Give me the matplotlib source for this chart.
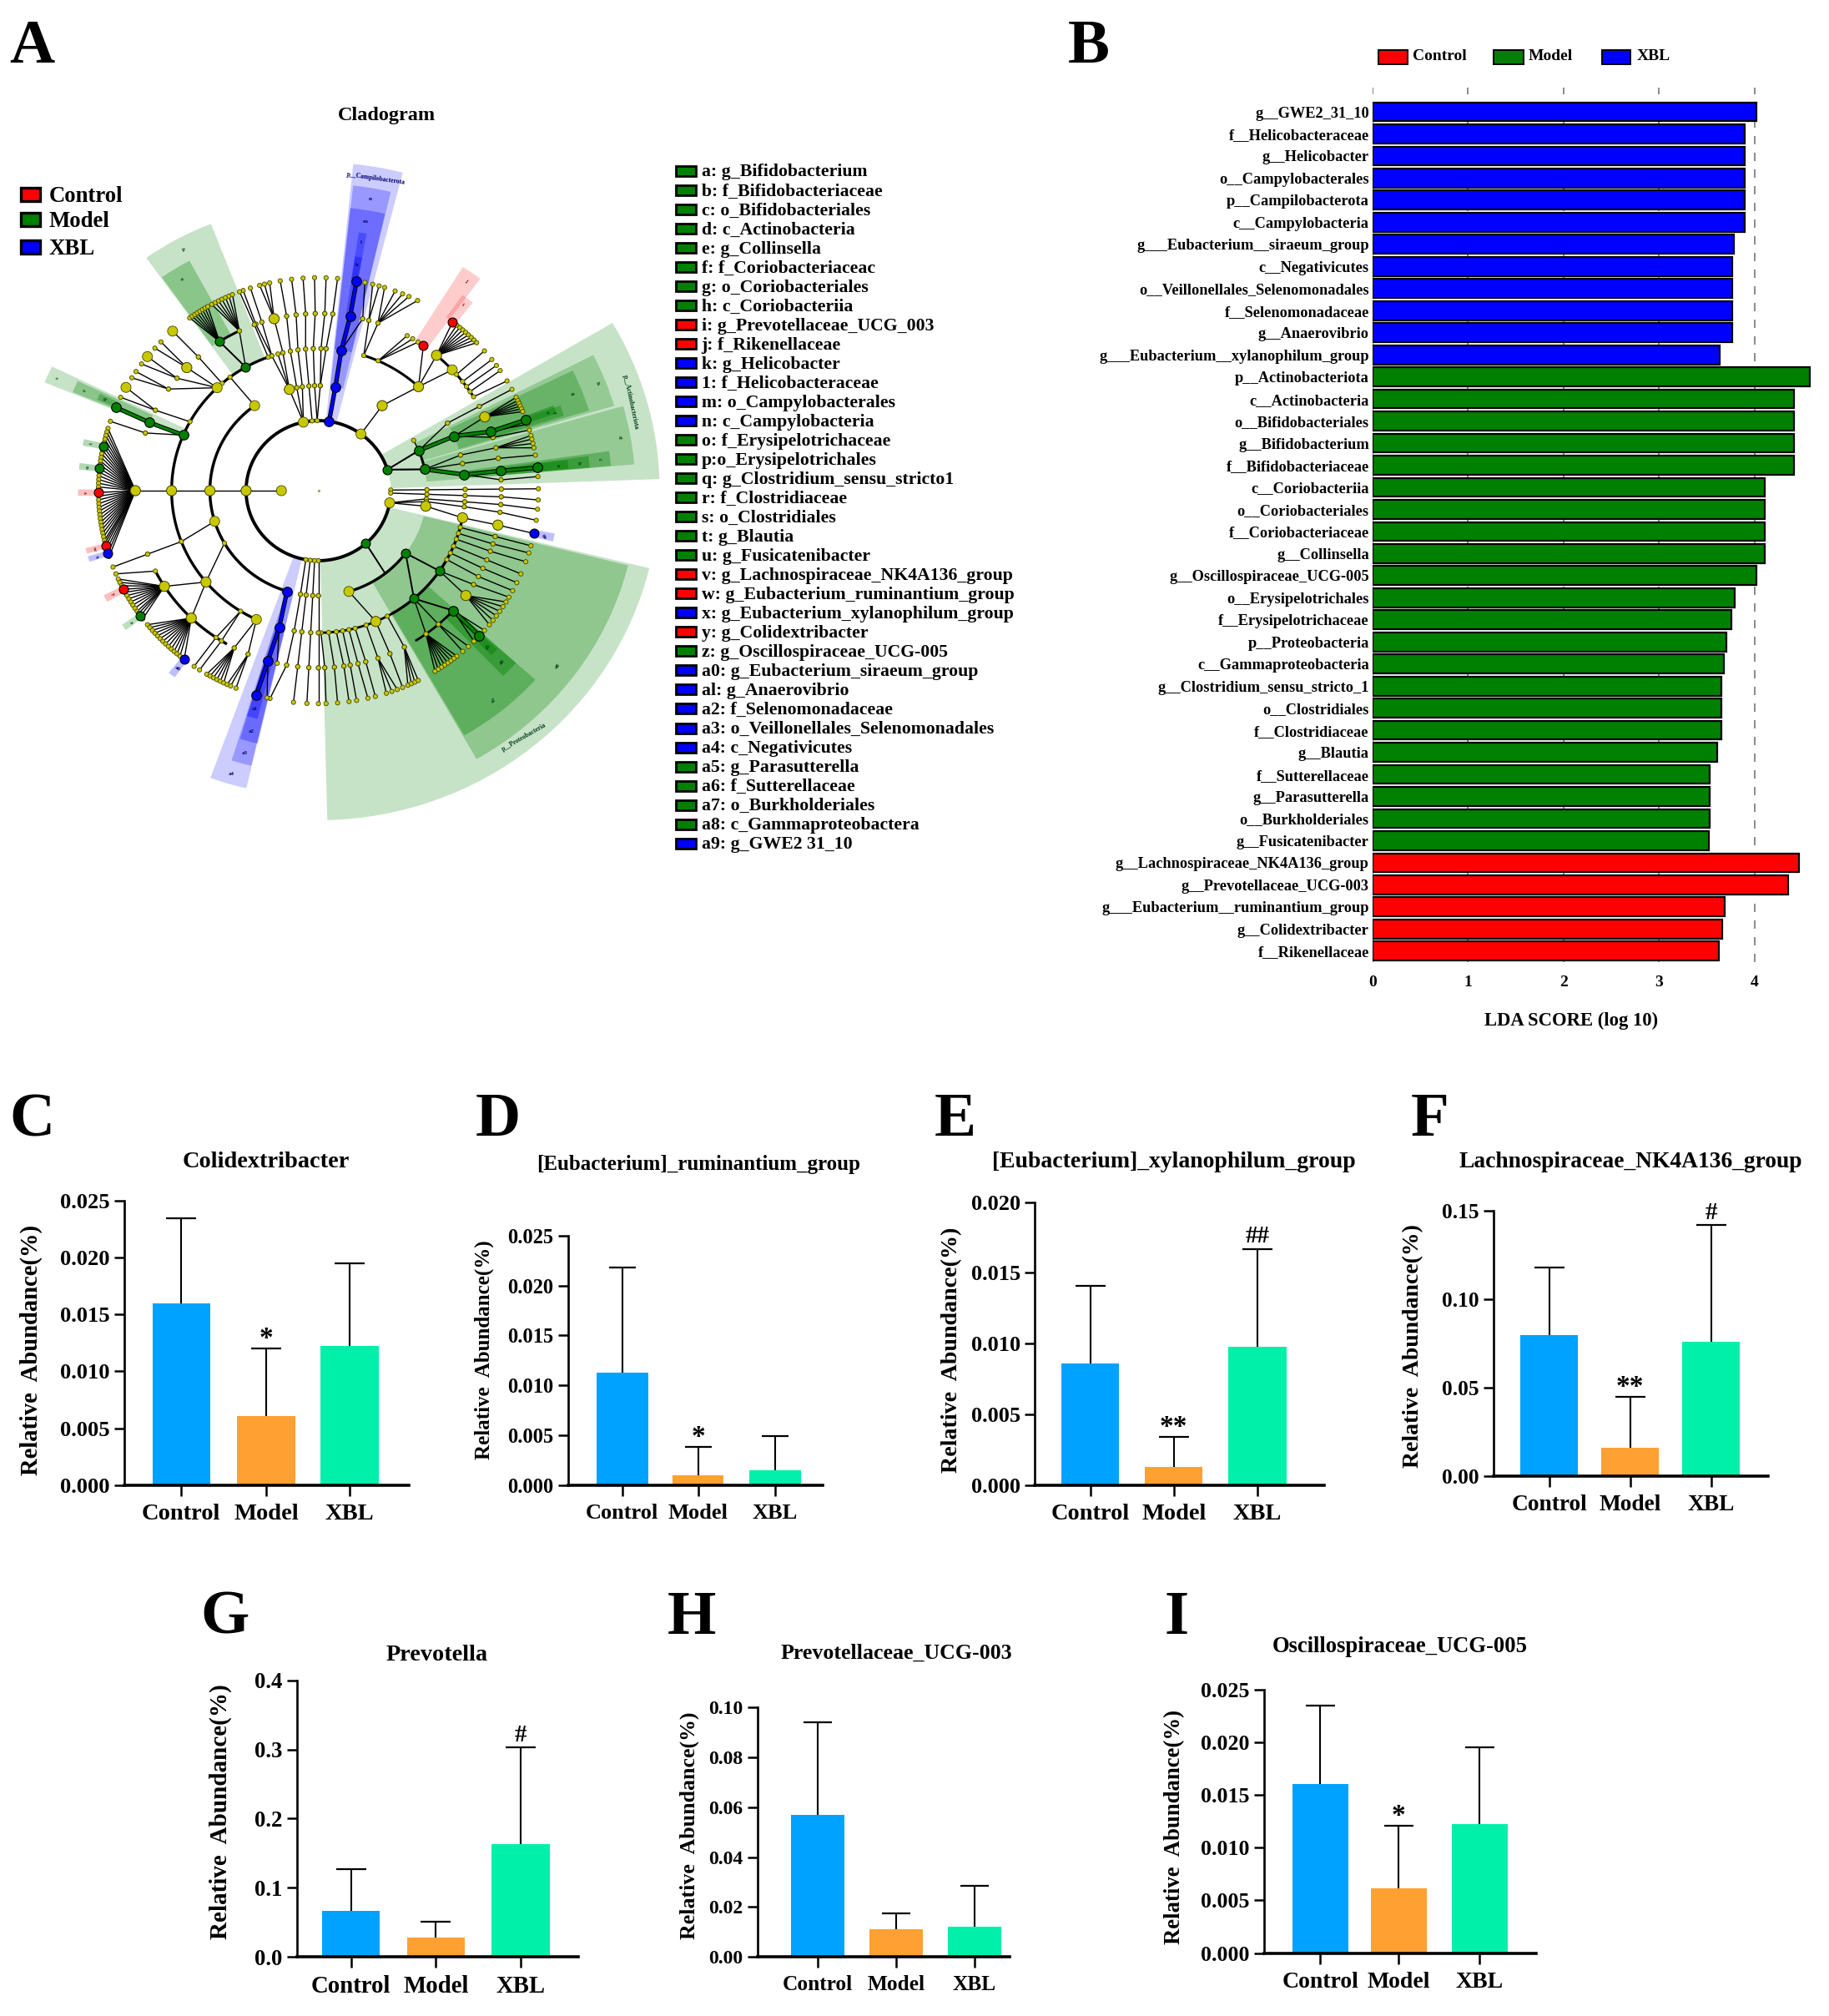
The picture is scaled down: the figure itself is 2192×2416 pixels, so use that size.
import numpy as np
import matplotlib
matplotlib.use("Agg")
import matplotlib.pyplot as plt
from matplotlib.patches import Rectangle

plt.rcParams['font.family'] = ['Liberation Serif', 'DejaVu Serif']
plt.rcParams['font.weight'] = 'bold'

W, H = 2192, 2416
S = 2416 / 1568
RED, GREEN, BLUE = '#ff0000', '#008000', '#0000ff'
BAR_COLORS = ['#00a2ff', '#ffa033', '#00f0aa']
GROUPS = ['Control', 'Model', 'XBL']

# ---------- Panel A legend ----------
clade_labels = ['a: g_Bifidobacterium', 'b: f_Bifidobacteriaceae', 'c: o_Bifidobacteriales', 'd: c_Actinobacteria',
    'e: g_Collinsella', 'f: f_Coriobacteriaceac', 'g: o_Coriobacteriales', 'h: c_Coriobacteriia',
    'i: g_Prevotellaceae_UCG_003', 'j: f_Rikenellaceae', 'k: g_Helicobacter', '1: f_Helicobacteraceae',
    'm: o_Campylobacterales', 'n: c_Campylobacteria', 'o: f_Erysipelotrichaceae', 'p:o_Erysipelotrichales',
    'q: g_Clostridium_sensu_stricto1', 'r: f_Clostridiaceae', 's: o_Clostridiales', 't: g_Blautia',
    'u: g_Fusicatenibacter', 'v: g_Lachnospiraceae_NK4A136_group', 'w: g_Eubacterium_ruminantium_group',
    'x: g_Eubacterium_xylanophilum_group', 'y: g_Colidextribacter', 'z: g_Oscillospiraceae_UCG-005',
    'a0: g_Eubacterium_siraeum_group', 'al: g_Anaerovibrio', 'a2: f_Selenomonadaceae',
    'a3: o_Veillonellales_Selenomonadales', 'a4: c_Negativicutes', 'a5: g_Parasutterella', 'a6: f_Sutterellaceae',
    'a7: o_Burkholderiales', 'a8: c_Gammaproteobactera', 'a9: g_GWE2 31_10']
clade_groups = 'MMMMMMMMCCXXXXMMMMMMMCCXCMXXXXXMMMMX'

# ---------- Cladogram data: level, angle (deg) ----------
level_radius = {1: 87, 2: 170, 3: 255, 4: 345, 5: 430, 6: 517}
ring_arcs = [(2, 17.5, 350, 2.8), (3, 126, 253, 2.5), (4, 110, 245, 2.4),
             (4, 47, 72, 2.2), (5, 32, 49.8, 2.2), (3, 11.7, 22.4, 2.2), (3, -73.7, -36.5, 2.4), (4, -89, -58.5, 2.0),
             (4, -60, -13, 2.4), (5, -58, -42.6, 2.0), (5, 115.6, 122.7, 2.2), (5, 207, 240, 2.4)]
big_nodes = [(2, 102), (2, 54), (2, -10), (2, 180), (1, 180), (3, 105.5), (3, 54), (3, 180), (3, 197), (3, 126), (3, -73.7),
             (4, 47), (4, 180), (4, 133.6), (4, 220), (4, 245), (4, -67), (5, 104), (5, 49.8), (5, 43), (5, 180), (5, 212.7),
             (5, 226), (5, -36.3), (4, -11), (5, -11.2), (3, -8.5), (6, 131.5), (6, 141), (6, 151), (5, 136), (5, 24.6)]
links = [
    (2, 180, 1, [180]), (2, 180, 3, [180]), (3, 180, 4, [180]), (4, 180, 5, [180]),
    (5, 180, 6, [163, 164, 165, 166, 167, 168, 169, 170, 171, 172, 173, 174, 175, 176, 177, 178, 179, 180.5, 181.5, 182.5, 183.5,
                 184.5, 185.5, 186.5, 187.5, 188.5, 189.5, 190.5, 191.5, 192.5, 193.5, 194.2, 195, 196, 197, 198]),
    # top
    (2, 102, 3, [105.5, 101.5, 98.5]), (2, 95, 3, [95]), (2, 91, 3, [92, 89]),
    (3, 105.5, 4, [108.5, 106, 104]), (3, 101.5, 4, [101]), (3, 98.5, 4, [98]), (3, 95, 4, [95]), (3, 92, 4, [92]), (3, 89, 4, [89]),
    (4, 108.5, 5, [110, 108]), (5, 110, 6, [110]), (5, 108, 6, [108]), (4, 104, 5, [104]), (5, 104, 6, [105.5, 104.2, 102.8]),
    (4, 101, 5, [100]), (5, 100, 6, [100]), (4, 98, 5, [97]), (5, 97, 6, [97]), (4, 95, 5, [94]), (5, 94, 6, [94]),
    (4, 92, 5, [91]), (5, 91, 6, [91]), (4, 89, 5, [88]), (5, 88, 6, [88]), (5, 85.5, 6, [85]), (4, 87, 5, [85.5]), (3, 89, 4, [87]),
    # Campilobacterota siblings
    (5, 76, 6, [77.8]), (4, 81, 5, [76]),
    # sector 54
    (2, 54, 3, [54]), (3, 54, 4, [47]), (4, 72, 5, [74, 71]), (5, 74, 6, [75.7, 74]), (5, 71, 6, [72.5, 69.6, 67.5, 65.7, 63.2]),
    (4, 66, 5, [61, 59, 57]), (4, 47, 5, [55, 49.8, 43]),
    (5, 49.8, 6, [52.4, 51, 50, 49, 48, 47, 46, 45, 44]),
    (5, 41, 6, [41]), (5, 38, 6, [38]), (5, 36, 6, [36]), (5, 34, 6, [34.3]), (5, 32, 6, [31]),
    # Actinobacteriota
    (2, 17.5, 3, [22.4, 11.7]), (3, 22.4, 4, [28.4, 22.5]), (3, 22.4, 3, [28.6]), (4, 28.4, 5, [28.4]), (5, 28.4, 6, [28.4]),
    (4, 22.5, 5, [24.6, 19.5, 17.5]), (5, 24.6, 6, [26, 25, 24.2, 23.4, 22.6, 21.8]), (5, 19.5, 6, [19.4, 18.2]), (5, 17.5, 6, [16.5]),
    (3, 11.7, 4, [14.5, 11, 6.5]), (4, 14.5, 5, [14]), (5, 14, 6, [15, 14, 12.8, 11.6]), (4, 11, 5, [10.5]), (5, 10.5, 6, [9.6]),
    (4, 6.5, 5, [6.4, 3.5]), (5, 6.4, 6, [6.2]), (5, 3.5, 6, [3.8]),
    # right gap
    (2, 0.5, 3, [0.5]), (3, 0.5, 4, [0.5]), (4, 0.5, 5, [0.5]), (5, 0.5, 6, [0.5]),
    (2, -2, 3, [-2]), (3, -2, 4, [-2]), (4, -2, 5, [-2]), (5, -2, 6, [-2.5]),
    (2, -10, 3, [-4.5, -6, -8.5]), (3, -4.5, 4, [-4.5]), (4, -4.5, 5, [-4.5]), (5, -4.5, 6, [-5]),
    (3, -6, 4, [-6.5]), (4, -6.5, 5, [-7]), (5, -7, 6, [-8]),
    (3, -8.5, 4, [-11]), (4, -11, 5, [-11.2]), (5, -11.2, 6, [-11.6]),
    # Proteobacteria yellow
    (3, -73.7, 4, [-67]),
    (4, -89, 5, [-88]), (5, -88, 6, [-88]), (4, -86, 5, [-85]), (5, -85, 6, [-85]), (4, -83, 5, [-82]), (5, -82, 6, [-82]),
    (4, -80.5, 5, [-80]), (5, -80, 6, [-80]), (4, -78, 5, [-77.5]), (5, -77.5, 6, [-77]), (4, -75.5, 5, [-75]), (5, -75, 6, [-75]),
    (4, -71, 5, [-71]), (5, -71, 6, [-72, -70.5, -69]), (4, -62, 5, [-62]), (5, -62, 6, [-66, -65, -64, -63]),
    (4, -67, 5, [-67]), (5, -67, 6, [-67.5]),
    (4, -15, 5, [-15]), (5, -15, 6, [-15]), (4, -17.5, 5, [-17.5]), (5, -17.5, 6, [-17]), (4, -20, 5, [-20]), (5, -20, 6, [-19.5]),
    (4, -23, 5, [-23]), (5, -23, 6, [-23]), (4, -26, 5, [-26]), (5, -26, 6, [-25.6]), (4, -29, 5, [-29]), (5, -29, 6, [-28]),
    (4, -34.4, 5, [-36.3, -32]), (5, -32, 6, [-30]), (5, -36.3, 6, [-31.5, -33, -34.5, -36, -37.5, -39]),
    (5, -42.6, 6, [-41, -45]), (4, -49.4, 5, [-49, -54]), (5, -49, 6, [-47, -49]),
    (5, -54, 6, [-51, -52, -53, -54, -55, -56, -57, -58]),
    # bottom
    (2, -90, 3, [-90]), (3, -90, 4, [-90]), (4, -90, 5, [-90]), (5, -90, 6, [-90]),
    (2, -93, 3, [-93]), (3, -93, 4, [-93]), (4, -93, 5, [-93]), (5, -93, 6, [-93]),
    (2, -96.5, 3, [-96.5]), (3, -96.5, 4, [-96.5]), (4, -96.5, 5, [-96.5]), (5, -96.5, 6, [-96.5]),
    (2, -100, 3, [-99.5]), (3, -99.5, 4, [-99.5]), (4, -99.5, 5, [-100]), (5, -100, 6, [-102.7]),
    # Left upper
    (3, 126, 4, [127]), (4, 110, 5, [110.5]), (5, 110.5, 6, [111]),
    (4, 119.7, 5, [115.6]), (5, 122.7, 6, [125.8, 125, 124.2, 123.4, 122.6, 121.8, 121, 120.2]),
    (5, 115.6, 6, [119, 118, 117, 116, 115, 114, 113]),
    (4, 131, 5, [131]), (5, 131, 6, [131.5]), (4, 133.6, 5, [136, 140.6, 145]), (5, 136, 6, [135.7, 138]), (5, 140.6, 6, [141, 143.5]),
    (5, 145, 6, [146, 148]), (4, 151, 5, [153]), (5, 153, 6, [151, 154]), (4, 157, 5, [161]), (5, 161, 6, [161]),
    # Left lower
    (3, 197, 4, [201]), (4, 201, 5, [201]), (5, 201, 6, [201]), (3, 210, 4, [220]),
    (4, 220, 5, [212.7, 226]), (5, 207, 6, [203]),
    (5, 212.7, 6, [204.5, 205.5, 206.5, 207.6, 208.5, 209.5, 210.5, 211.5, 212.5, 213.5, 214.5, 215.2, 216, 217]),
    (5, 226, 6, [219, 220, 221, 222, 223, 224, 225, 226, 227, 228, 229, 230, 231, 232.4]),
    (4, 238, 5, [236, 238]), (5, 236, 6, [235.6]), (5, 238, 6, [237.3]),
    (4, 245, 5, [242.6, 247.4]), (5, 242.6, 6, [239.5, 240.5, 241.5, 242.5, 243.5, 244.5]), (5, 247.4, 6, [245.5, 246.5, 248]),
    (4, 254.5, 5, [257]), (5, 254, 6, [256.5]),
]
colored_chains = [
    (GREEN, [(3, 22.4), (4, 22.5), (5, 19.5), (6, 19.4)]),
    (GREEN, [(3, 11.7), (4, 6.5), (5, 6.4), (6, 6.2)]),
    (BLUE, [(2, 81.5), (3, 81), (4, 81), (5, 80), (6, 80)]),
    (BLUE, [(3, 253.2), (4, 254.5), (5, 254), (6, 253.6)]),
    (GREEN, [(4, 157), (5, 157.4), (6, 157)]),
    (GREEN, [(5, -42.6), (6, -43)]),
]
stem_links = [(4, -49.4, 5, -42.6), (3, -36.5, 4, -49.4), (3, -36.5, 4, -34.4), (2, -49, 3, -52), (4, 119.7, 5, 122.7),
              (2, 17.5, 3, 22.4), (2, 17.5, 3, 11.7)]
green_nodes = [(2, 17.5), (2, -49), (3, -36.5), (4, -49.4), (4, -34.4), (4, 119.7), (5, 122.7), (6, 168), (6, 174), (6, 216)]
red_nodes = [(5, 55), (6, 52.4), (6, 180.5), (6, 195), (6, 207.6)]
blue_nodes = [(6, -11.6), (6, 197), (6, 232.4)]
# wedge: theta1, theta2, radius start, radius end, colour, alpha, label, label radius, rotation
wedges = [
    (2, 30.5, 170, 802, GREEN, .22, 'p__Actinobacteriota', 765, -78),
    (-88.5, -13.6, 170, 800, GREEN, .22, 'p__Proteobacteria', 770, 30),
    (75.6, 84.1, 170, 797, BLUE, .2, 'p__Campilobacterota', 770, -8),
    (250, 256.8, 170, 742, BLUE, .2, 'a4', 718, 0),
    (111.3, 125.6, 345, 695, GREEN, .22, 'p', 665, 30),
    (154.3, 157.8, 345, 695, GREEN, .22, 's', 672, 70),
    (4.9, 16, 255, 745, GREEN, .25, 'd', 720, -85),
    (16.5, 27, 255, 725, GREEN, .25, 'h', 705, -70),
    (-60.3, -14, 255, 750, GREEN, .28, 'a8', 705, 45),
    (76.8, 83.7, 255, 745, BLUE, .25, 'n', 718, 0),
    (252.7, 256.7, 255, 686, BLUE, .25, 'a3', 660, 0),
    (118.5, 125.4, 430, 635, GREEN, .3, 'o', 605, 30),
    (154.8, 157.5, 430, 625, GREEN, .3, 'r', 600, 70),
    (5, 8, 345, 690, GREEN, .35, 'c', 665, -85),
    (17, 26, 345, 665, GREEN, .3, 'g', 640, -70),
    (-60, -42, 345, 686, GREEN, .35, 'a7', 655, 50),
    (76.9, 83.8, 345, 690, BLUE, .28, 'm', 662, 0),
    (253, 256.9, 345, 630, BLUE, .3, 'a2', 605, 0),
    (5, 7.5, 430, 640, GREEN, .4, 'b', 615, -85),
    (17.5, 20, 430, 605, GREEN, .35, 'f', 585, -75),
    (-46, -42, 430, 625, GREEN, .4, 'a6', 600, 50),
    (79.7, 81.4, 430, 634, BLUE, .3, 'l', 610, 0),
    (252.9, 255.5, 430, 572, BLUE, .35, 'a1', 550, 0),
    (5.2, 7.2, 517, 590, GREEN, .45, 'a', 565, -85),
    (18.5, 20.5, 517, 590, GREEN, .45, 'e', 570, -75),
    (-44.5, -42.5, 517, 570, GREEN, .45, 'a5', 550, 50),
    (79.7, 81.4, 517, 575, BLUE, .35, 'k', 555, 0),
    (155.4, 157, 517, 565, GREEN, .35, 'q', 548, 70),
    (53.5, 58, 430, 640, RED, .2, 'j', 615, -35),
    (51.5, 54.5, 517, 583, RED, .2, 'i', 565, -35),
    (167.2, 168.8, 517, 565, GREEN, .3, 't', 545, 80),
    (173.2, 174.8, 517, 565, GREEN, .3, 'u', 545, 85),
    (179.7, 181.3, 517, 565, RED, .25, 'v', 545, 90),
    (194.3, 195.7, 517, 565, RED, .25, 'w', 545, -75),
    (196.4, 197.8, 517, 565, BLUE, .25, 'x', 545, -75),
    (206.7, 208.5, 517, 565, RED, .25, 'y', 545, -60),
    (215.2, 216.8, 517, 565, GREEN, .25, 'z', 545, -55),
    (231.5, 233.3, 517, 565, BLUE, .25, 'a0', 545, -40),
    (-12.6, -10.6, 517, 565, BLUE, .25, 'a9', 545, 100),
]

# ---------- Panel B data ----------
lda_names = ['g__GWE2_31_10', 'f__Helicobacteraceae', 'g__Helicobacter', 'o__Campylobacterales', 'p__Campilobacterota',
    'c__Campylobacteria', 'g___Eubacterium__siraeum_group', 'c__Negativicutes', 'o__Veillonellales_Selenomonadales',
    'f__Selenomonadaceae', 'g__Anaerovibrio', 'g___Eubacterium__xylanophilum_group', 'p__Actinobacteriota', 'c__Actinobacteria',
    'o__Bifidobacteriales', 'g__Bifidobacterium', 'f__Bifidobacteriaceae', 'c__Coriobacteriia', 'o__Coriobacteriales',
    'f__Coriobacteriaceae', 'g__Collinsella', 'g__Oscillospiraceae_UCG-005', 'o__Erysipelotrichales', 'f__Erysipelotrichaceae',
    'p__Proteobacteria', 'c__Gammaproteobacteria', 'g__Clostridium_sensu_stricto_1', 'o__Clostridiales', 'f__Clostridiaceae',
    'g__Blautia', 'f__Sutterellaceae', 'g__Parasutterella', 'o__Burkholderiales', 'g__Fusicatenibacter',
    'g__Lachnospiraceae_NK4A136_group', 'g__Prevotellaceae_UCG-003', 'g___Eubacterium__ruminantium_group', 'g__Colidextribacter', 'f__Rikenellaceae']
lda_values = [4.02, 3.895, 3.895, 3.895, 3.895, 3.895, 3.785, 3.765, 3.765, 3.765, 3.765, 3.635,
              4.58, 4.41, 4.41, 4.41, 4.41, 4.11, 4.11, 4.11, 4.11, 4.02, 3.79, 3.76, 3.71, 3.68, 3.65, 3.65, 3.65, 3.61, 3.53, 3.53, 3.53, 3.52,
              4.47, 4.35, 3.69, 3.66, 3.63]
lda_groups = 'X' * 12 + 'M' * 22 + 'C' * 5

# ---------- Bar panels ----------
panels = [
    dict(name='C', title='Colidextribacter', vals=[.016, .0061, .0122], tops=[.0235, .012, .0195], ymax=.025, step=.005, fmt='%.3f',
         ax=(97, 318, 1155, 934), xs=(141, 207, 272), bw=45, fs=20.5, marks=['', '*', ''], tpos=(207, 902), ylab=(23, 1050), tfs=20.4, lab=(25, 868), ylfs=20.6),
    dict(name='D', title='[Eubacterium]_ruminantium_group', vals=[.0113, .001, .0015], tops=[.0218, .0038, .0049], ymax=.025, step=.005, fmt='%.3f',
         ax=(442, 640, 1155, 961), xs=(484, 543, 603), bw=40, fs=19, marks=['', '*', ''], tpos=(543, 904), ylab=(375, 1050), tfs=18, lab=(387, 868), ylfs=18),
    dict(name='E', title='[Eubacterium]_xylanophilum_group', vals=[.0086, .0013, .0098], tops=[.0141, .0034, .0167], ymax=.02, step=.005, fmt='%.3f',
         ax=(805, 1030, 1155, 935), xs=(848, 913, 978), bw=45, fs=20.4, marks=['', '**', '##'], tpos=(913, 902), ylab=(739, 1050), tfs=20, lab=(743, 868), ylfs=20.2),
    dict(name='F', title='Lachnospiraceae_NK4A136_group', vals=[.08, .016, .076], tops=[.118, .045, .142], ymax=.15, step=.05, fmt='%.2f',
         ax=(1162, 1375, 1148, 942), xs=(1205, 1268, 1331), bw=45, fs=19.7, marks=['', '**', '#'], tpos=(1268, 902), ylab=(1098, 1047), tfs=19.8, lab=(1112, 868), ylfs=20),
    dict(name='G', title='Prevotella', vals=[.067, .028, .163], tops=[.127, .051, .303], ymax=.4, step=.1, fmt='%.1f',
         ax=(231, 450, 1522, 1307), xs=(273, 339, 405), bw=45, fs=20.7, marks=['', '', '#'], tpos=(340, 1286), ylab=(170, 1409), tfs=20.3, lab=(175, 1255), ylfs=21),
    dict(name='H', title='Prevotellaceae_UCG-003', vals=[.057, .011, .012], tops=[.094, .0175, .0285], ymax=.1, step=.02, fmt='%.2f',
         ax=(589, 785, 1522, 1328), xs=(636, 697, 758), bw=42, fs=18.3, marks=['', '', ''], tpos=(697, 1284), ylab=(535, 1420), tfs=18.6, lab=(538, 1255), ylfs=18.6),
    dict(name='I', title='Oscillospiraceae_UCG-005', vals=[.016, .0061, .0122], tops=[.0235, .0121, .0195], ymax=.025, step=.005, fmt='%.3f',
         ax=(983, 1195, 1519, 1314), xs=(1027, 1088, 1151), bw=44, fs=20, marks=['', '*', ''], tpos=(1089, 1279), ylab=(912, 1421), tfs=19.2, lab=(915, 1255), ylfs=19.3),
]

fig = plt.figure(figsize=(W / 100, H / 100), dpi=100, facecolor='white')


def rect(l, t, r, b):
    return [l / W, 1 - b / H, (r - l) / W, (b - t) / H]


def ftext(x, y, s, **kw):
    kw.setdefault('ha', 'center')
    kw.setdefault('va', 'center')
    return fig.text(x / W, 1 - y / H, s, **kw)


def swatch(x0, y0, x1, y1, color, lw=1.6):
    fig.add_artist(Rectangle((x0 / W, 1 - y1 / H), (x1 - x0) / W, (y1 - y0) / H, transform=fig.transFigure,
                             facecolor=color, edgecolor='black', linewidth=lw))


# ---------- Cladogram ----------
cx, cy, hw, hh = 381.6, 588, 408, 395
ax = fig.add_axes(rect(cx - hw, cy - hh, cx + hw, cy + hh), projection='polar')
ax.set_aspect('auto')
ax.set_axis_off()
ax.set_ylim(0, 800)
YEL = '#c8c800'


def pol(level, ang):
    return np.deg2rad(ang), level_radius[level]


for t1, t2, r0, r1, c, al, lab, lr, rot in wedges:
    bars = ax.bar(np.deg2rad((t1 + t2) / 2), r1 - r0, width=np.deg2rad(t2 - t1), bottom=r0, color=c, alpha=al, linewidth=0, zorder=1)
    bars[0].set_clip_on(False)
    ax.text(np.deg2rad((t1 + t2) / 2), lr, lab, fontsize=5.5 if len(lab) > 3 else 5, color='#003a14' if c == GREEN else ('#00006a' if c == BLUE else '#800000'),
            rotation=rot, ha='center', va='center', zorder=8)
for lev, a1, a2, lw in ring_arcs:
    th = np.deg2rad(np.linspace(a1, a2, 200))
    ax.plot(th, np.full_like(th, level_radius[lev]), color='black', lw=lw, zorder=3, solid_capstyle='butt')
nodes_t, nodes_r, nodes_s = [], [], []
bigset = set(big_nodes)
for la, aa, lb, bs in links:
    t0, r0 = pol(la, aa)
    nodes_t.append(t0); nodes_r.append(r0); nodes_s.append(75 if (la, aa) in bigset else 14)
    for b in bs:
        t1, r1 = pol(lb, b)
        ax.plot([t0, t1], [r0, r1], color='black', lw=1.0, zorder=3)
        nodes_t.append(t1); nodes_r.append(r1); nodes_s.append(75 if (lb, b) in bigset else 14)
ax.scatter(nodes_t, nodes_r, s=nodes_s, c=YEL, edgecolors='#444400', linewidths=0.6, zorder=5)
ax.scatter([0], [0], s=5, c='#a0a040', linewidths=0, zorder=5)
for la, aa, lb, ab in stem_links:
    t0, r0 = pol(la, aa)
    t1, r1 = pol(lb, ab)
    ax.plot([t0, t1], [r0, r1], color='black', lw=1.4, zorder=3)
for col, chain in colored_chains:
    ts = [pol(*n)[0] for n in chain]
    rs = [pol(*n)[1] for n in chain]
    ax.plot(ts, rs, color='black', lw=3.8, zorder=4)
    ax.plot(ts, rs, color=col, lw=2.4, zorder=4)
    ax.scatter(ts, rs, s=70, c=col, edgecolors='black', linewidths=0.8, zorder=6)
for col, group in ((GREEN, green_nodes), (RED, red_nodes), (BLUE, blue_nodes)):
    ax.scatter([pol(*n)[0] for n in group], [pol(*n)[1] for n in group], s=62, c=col, edgecolors='black', linewidths=0.8, zorder=6)

ftext(301 * S, 90 * S, 'Cladogram', fontsize=17.5)
for i, g in enumerate(GROUPS):
    y = [151, 171, 192][i] * S
    swatch(25, y - 8, 48, y + 8, [RED, GREEN, BLUE][i], lw=2.4)
    ftext(38 * S, y + 2.5, g, fontsize=19.3, ha='left')
gmap = {'M': GREEN, 'C': RED, 'X': BLUE}
for i, (lab, g) in enumerate(zip(clade_labels, clade_groups)):
    y = (133 + i * 14.94) * S
    swatch(526 * S, y - 6, 541 * S, y + 6, gmap[g], lw=2)
    ftext(545.5 * S, y + 1.5, lab, fontsize=15.7, ha='left')

# ---------- Panel B ----------
axb = fig.add_axes(rect(1645, 105, 1645 + 4.65 * 114.4, 1152.5))
ypos = np.arange(len(lda_values))
axb.barh(ypos, lda_values, height=0.86, color=[gmap[g] for g in lda_groups], edgecolor='black', linewidth=1.6, zorder=3)
axb.set_xlim(0, 4.65)
axb.set_ylim(38.48, -1.096)
axb.set_yticks(ypos, lda_names, fontsize=13.2)
axb.tick_params(axis='y', length=0, pad=3)
axb.set_xticks([0, 1, 2, 3, 4])
axb.tick_params(axis='x', length=0, labelsize=14, pad=12)
axb.xaxis.grid(True, color='#777777', linestyle=(0, (6, 6)), linewidth=1.2, zorder=0)
for sp in axb.spines.values():
    sp.set_visible(False)
ftext(1222 * S, 794 * S, 'LDA SCORE (log 10)', fontsize=16.3)
for (x0, x1, tx), g, c in zip([(1072, 1095, 1099), (1162, 1185, 1189), (1246, 1268, 1273)], GROUPS, [RED, GREEN, BLUE]):
    swatch(x0 * S, 39 * S, x1 * S, 50 * S, c, lw=1.4)
    ftext(tx * S, 44 * S, g, fontsize=14, ha='left')

# ---------- Bar panels ----------
for p in panels:
    x0, x1, y0, y1 = [v * S for v in p['ax']]
    a = fig.add_axes(rect(x0, y1, x1, y0))
    a.set_xlim(x0, x1)
    a.set_ylim(0, p['ymax'])
    xs = [v * S for v in p['xs']]
    bw = p['bw'] * S
    a.bar(xs, p['vals'], width=bw, color=BAR_COLORS, zorder=2)
    a.vlines(xs, p['vals'], p['tops'], color='black', lw=1.5, zorder=1)
    a.hlines(p['tops'], np.array(xs) - bw * 0.26, np.array(xs) + bw * 0.26, color='black', lw=1.6, zorder=1)
    yt = np.round(np.arange(0, p['ymax'] + p['step'] / 2, p['step']), 4)
    a.set_yticks(yt, [p['fmt'] % v for v in yt], fontsize=p['fs'] * 0.93)
    a.set_xticks(xs, GROUPS, fontsize=p['fs'])
    a.tick_params(axis='y', length=8.6, width=1.8, pad=4)
    a.tick_params(axis='x', length=9.5, width=1.8, pad=6.5)
    for s in ('top', 'right'):
        a.spines[s].set_visible(False)
    a.spines['left'].set_linewidth(1.9)
    a.spines['bottom'].set_linewidth(2.6)
    for xv, top, m in zip(xs, p['tops'], p['marks']):
        if m:
            big = m.startswith('*')
            a.annotate(m, (xv, top), xytext=(0, -3 if big else 1), textcoords='offset points', ha='center', va='bottom',
                       fontsize=24 if big else 21, fontweight='bold', annotation_clip=False)
    ftext(p['tpos'][0] * S, p['tpos'][1] * S + 2.5, p['title'], fontsize=p['tfs'])
    ftext(p['ylab'][0] * S + 2, p['ylab'][1] * S, 'Relative  Abundance(%)', fontsize=p['ylfs'], rotation=90)
    ftext(p['lab'][0] * S, p['lab'][1] * S + 6, p['name'], fontsize=54)

ftext(25 * S, 33 * S + 6, 'A', fontsize=54)
ftext(847 * S, 33 * S + 6, 'B', fontsize=54)

fig.savefig('out.png', dpi=100)
